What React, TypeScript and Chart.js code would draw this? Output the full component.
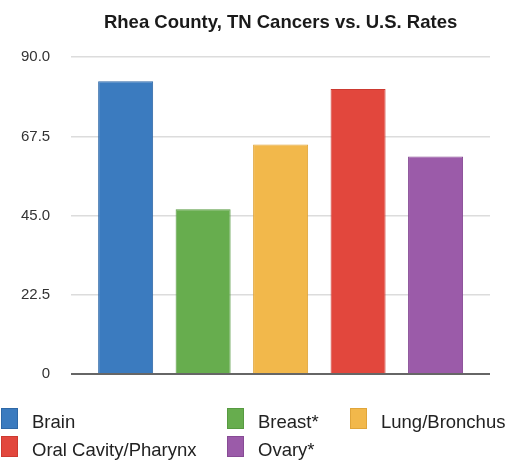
import React, { useEffect, useRef } from "react";
import { Chart, registerables } from "chart.js";

Chart.register(...registerables);

const TITLE = "Rhea County, TN Cancers vs. U.S. Rates";
const CATEGORIES = ["Brain", "Breast*", "Lung/Bronchus", "Oral Cavity/Pharynx", "Ovary*"];
const VALUES = [83.2, 46.8, 65.2, 81.0, 61.8];
const COLORS = ["#3b7bbf", "#67ad4e", "#f2b84b", "#e2473d", "#9b5ba9"];
const BORDERS = ["#2f68a6", "#579a41", "#e0a53a", "#cc3a31", "#874b95"];
const Y_TICKS = [0, 22.5, 45, 67.5, 90];

// legend grid cells (column, row) for each category
const LEGEND_COL_X = [1, 227, 350];
const LEGEND_ROW_Y = [408, 436];
const LEGEND_CELLS: [number, number][] = [
  [0, 0],
  [1, 0],
  [2, 0],
  [0, 1],
  [1, 1],
];

const FONT = "'Liberation Sans', Arial, Helvetica, sans-serif";

const legendPlugin = {
  id: "gridLegend",
  afterDraw(chart: any) {
    const ctx = chart.ctx;
    ctx.save();
    chart.data.datasets.forEach((ds: any, i: number) => {
      const [c, r] = LEGEND_CELLS[i];
      const x = LEGEND_COL_X[c];
      const y = LEGEND_ROW_Y[r];
      ctx.fillStyle = ds.backgroundColor;
      ctx.fillRect(x, y, 17, 21);
      ctx.strokeStyle = ds.borderColor;
      ctx.lineWidth = 1;
      ctx.strokeRect(x + 0.5, y + 0.5, 16, 20);
      ctx.fillStyle = "#222";
      ctx.font = `18.5px ${FONT}`;
      ctx.textBaseline = "alphabetic";
      ctx.textAlign = "left";
      ctx.fillText(ds.label, x + 31, y + 20);
    });
    ctx.restore();
  },
};

export default function App() {
  const ref = useRef<HTMLCanvasElement | null>(null);

  useEffect(() => {
    if (!ref.current) return;
    const chart = new Chart(ref.current, {
      type: "bar",
      data: {
        labels: [""],
        datasets: CATEGORIES.map((name, i) => ({
          label: name,
          data: [VALUES[i]],
          backgroundColor: COLORS[i],
          borderColor: BORDERS[i],
          borderWidth: 1,
          categoryPercentage: 0.925,
          barPercentage: 0.71,
        })),
      },
      options: {
        responsive: false,
        animation: false,
        layout: { padding: { left: 0, right: 20, top: 0, bottom: 87 } },
        plugins: {
          legend: { display: false },
          tooltip: { enabled: false },
          title: {
            display: true,
            text: TITLE,
            fullSize: false,
            color: "#1a1a1a",
            font: { family: FONT, size: 18.5, weight: "bold" },
            padding: { top: 12, bottom: 23 },
          },
        },
        scales: {
          x: { display: false },
          y: {
            min: 0,
            max: 90,
            afterBuildTicks: (axis: any) => {
              axis.ticks = Y_TICKS.map((v) => ({ value: v }));
            },
            border: { display: false },
            grid: {
              drawTicks: false,
              color: (c: any) => (c.tick && c.tick.value === 0 ? "#666" : "#dcdcdc"),
              lineWidth: (c: any) => (c.tick && c.tick.value === 0 ? 2 : 1.5),
            },
            ticks: {
              padding: 21,
              color: "#333",
              font: { family: FONT, size: 15 },
              callback: (v: any) => (Number(v) === 0 ? "0" : Number(v).toFixed(1)),
            },
          },
        },
      },
      plugins: [legendPlugin],
    });
    return () => chart.destroy();
  }, []);

  return (
    <div style={{ position: "absolute", left: 0, top: 0, width: 510, height: 461, background: "#fff" }}>
      <canvas ref={ref} width={510} height={461} style={{ display: "block" }} />
    </div>
  );
}
